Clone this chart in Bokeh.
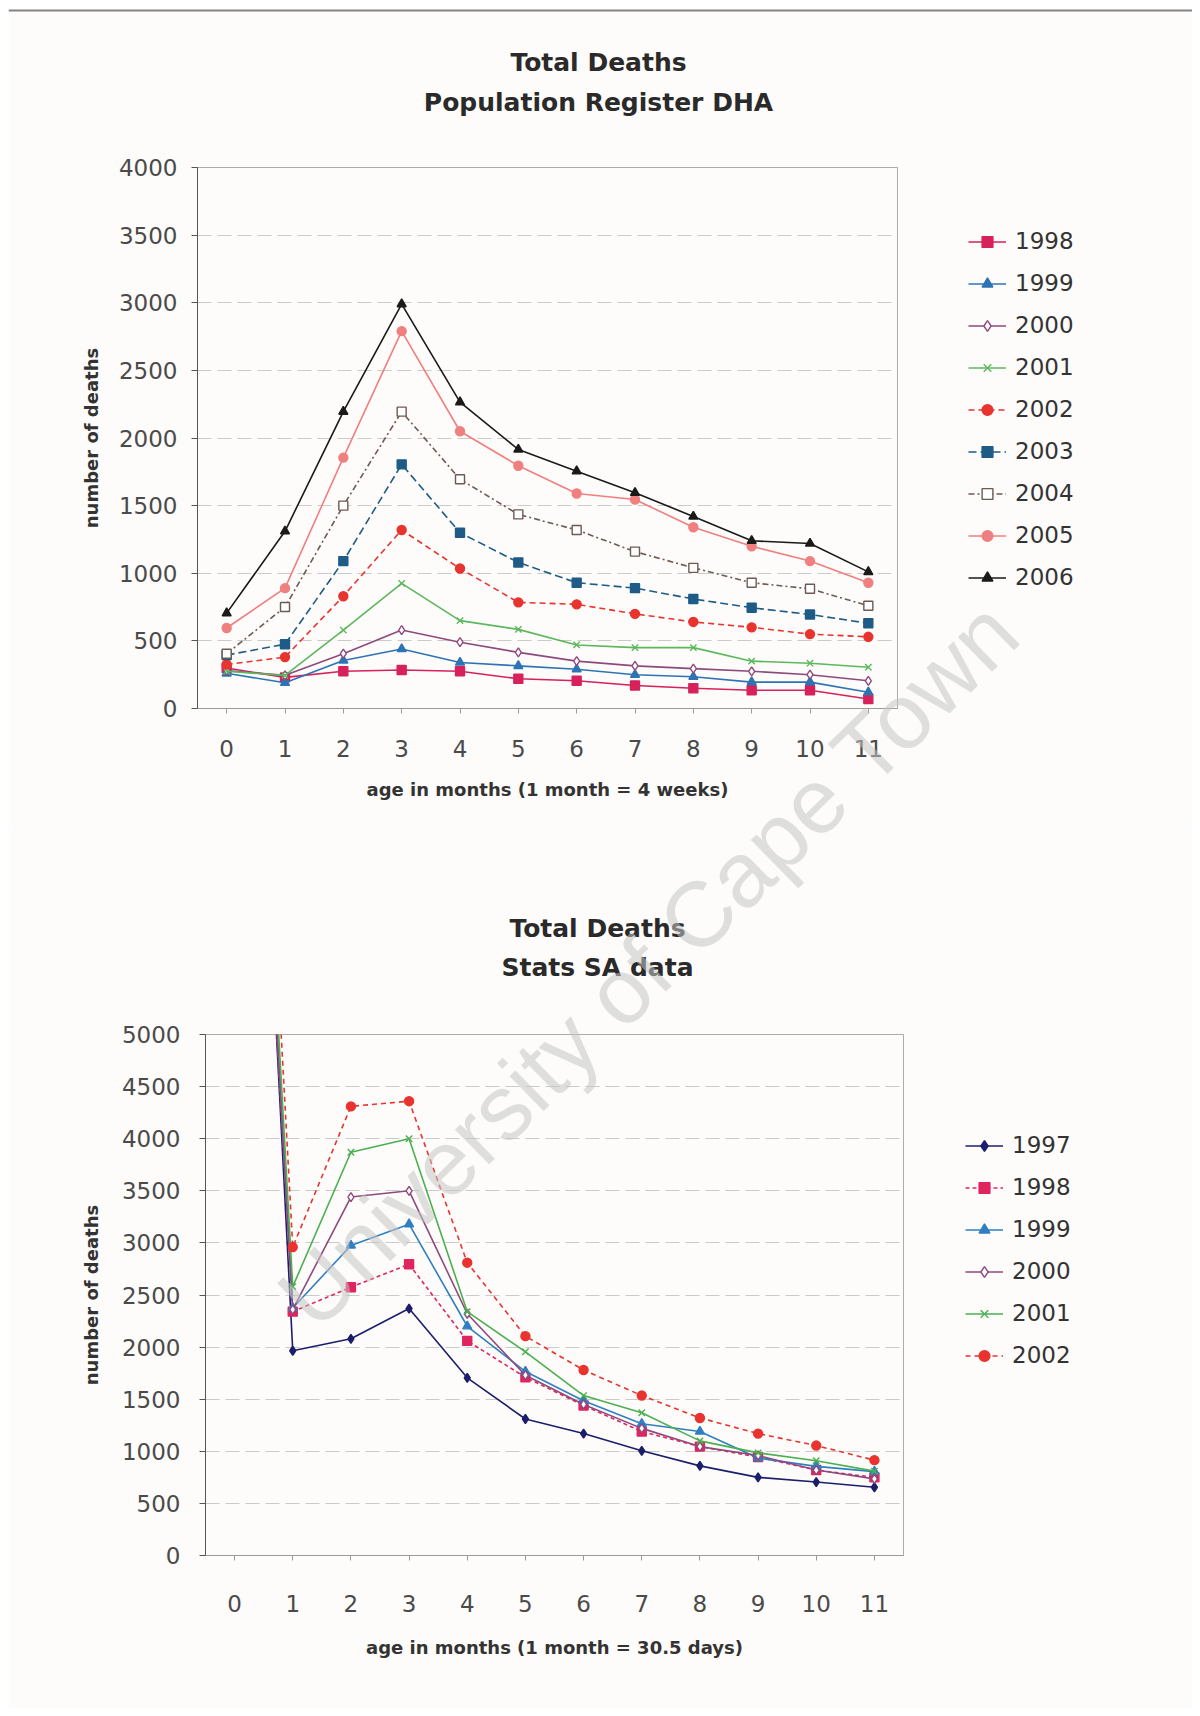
from bokeh.plotting import figure
from bokeh.models import Label, FixedTicker, Legend, LegendItem, Span
from bokeh.embed import file_html
from bokeh.resources import INLINE

# ---------------- data: top chart (Population Register DHA) ----------------
months = list(range(12))
dha_years = ["1998", "1999", "2000", "2001", "2002", "2003", "2004", "2005", "2006"]
dha_1998 = [300, 230, 275, 285, 275, 220, 205, 170, 150, 135, 135, 70]
dha_1999 = [260, 190, 355, 440, 340, 315, 290, 250, 235, 195, 195, 120]
dha_2000 = [280, 245, 405, 580, 490, 415, 350, 315, 295, 275, 250, 205]
dha_2001 = [275, 245, 580, 925, 650, 585, 470, 450, 450, 350, 335, 305]
dha_2002 = [325, 380, 830, 1320, 1035, 785, 770, 700, 640, 600, 550, 530]
dha_2003 = [395, 475, 1090, 1805, 1300, 1080, 930, 890, 810, 745, 695, 630]
dha_2004 = [405, 750, 1500, 2195, 1695, 1435, 1320, 1160, 1040, 930, 885, 760]
dha_2005 = [595, 890, 1855, 2790, 2050, 1795, 1590, 1545, 1340, 1200, 1090, 930]
dha_2006 = [705, 1310, 2195, 2990, 2265, 1915, 1755, 1595, 1420, 1240, 1220, 1010]
dha_values = [dha_1998, dha_1999, dha_2000, dha_2001, dha_2002, dha_2003,
              dha_2004, dha_2005, dha_2006]

# ---------------- data: bottom chart (Stats SA) ----------------
ssa_years = ["1997", "1998", "1999", "2000", "2001", "2002"]
ssa_1997 = [12800, 1965, 2080, 2370, 1705, 1310, 1170, 1005, 860, 750, 705, 655]
ssa_1998 = [12000, 2340, 2575, 2795, 2060, 1710, 1440, 1190, 1045, 945, 820, 750]
ssa_1999 = [12300, 2375, 2975, 3180, 2200, 1765, 1485, 1265, 1190, 935, 855, 805]
ssa_2000 = [12200, 2360, 3440, 3500, 2320, 1730, 1450, 1220, 1045, 960, 820, 735]
ssa_2001 = [12600, 2580, 3870, 4000, 2340, 1955, 1535, 1370, 1100, 985, 910, 810]
ssa_2002 = [13200, 2960, 4310, 4360, 2810, 2105, 1780, 1535, 1320, 1170, 1055, 915]
ssa_values = [ssa_1997, ssa_1998, ssa_1999, ssa_2000, ssa_2001, ssa_2002]

dha_ticks = [0, 500, 1000, 1500, 2000, 2500, 3000, 3500, 4000]
ssa_ticks = [0, 500, 1000, 1500, 2000, 2500, 3000, 3500, 4000, 4500, 5000]

dha_title = ["Total Deaths", "Population Register DHA"]
ssa_title = ["Total Deaths", "Stats SA data"]
watermark_text = "University of Cape Town"

# ---------------- styles ----------------
dha_style = [
    ("#d6215b", "square", "#d6215b", "solid"),
    ("#2e74b5", "triangle", "#2e74b5", "solid"),
    ("#8e4a7e", "diamond", "white", "solid"),
    ("#5cb85c", "x", "#5cb85c", "solid"),
    ("#e8332f", "circle", "#e8332f", "6 4"),
    ("#1f5b87", "square", "#1f5b87", "8 4"),
    ("#6e5a52", "square", "white", "6 3 2 3"),
    ("#f07f7f", "circle", "#f07f7f", "solid"),
    ("#1a1a1a", "triangle", "#1a1a1a", "solid"),
]
ssa_style = [
    ("#1b1f6b", "diamond", "#1b1f6b", "solid"),
    ("#e0245e", "square", "#e0245e", "4 3"),
    ("#2f7fc1", "triangle", "#2f7fc1", "solid"),
    ("#8e4a7e", "diamond", "white", "solid"),
    ("#4caf50", "x", "#4caf50", "solid"),
    ("#e8332f", "circle", "#e8332f", "5 4"),
]

FONT = "DejaVu Sans"
WFONT = "Liberation Sans"
BG = "#fdfcfa"
W = 1184
H1 = 822
H2 = 878
HT = H1 + H2
OX, OY = 8, 8   # page offset of everything


def place(top):
    return {"position": "absolute", "top": f"{OY + top}px", "left": f"{OX}px"}


def make_fig(height, top, border, y_end, ticks, xlab,
             ytick_standoff, ylab_standoff, xtick_standoff, xlab_standoff):
    left, right, btop, bottom = border
    p = figure(width=W, height=height, x_range=(-0.5, 11.5), y_range=(0, y_end),
               output_backend="svg", toolbar_location=None,
               min_border_left=left, min_border_right=right,
               min_border_top=btop, min_border_bottom=bottom,
               styles=place(top))
    p.background_fill_color = BG
    p.border_fill_color = BG
    p.outline_line_color = "#777777"
    p.outline_line_alpha = 0.6
    p.xgrid.visible = False
    p.ygrid.grid_line_color = "#bdbdbd"
    p.ygrid.grid_line_dash = "14 6"
    p.ygrid.grid_line_alpha = 0.8
    p.yaxis.ticker = FixedTicker(ticks=ticks)
    p.xaxis.ticker = FixedTicker(ticks=months)
    for ax in (p.xaxis, p.yaxis):
        ax.major_label_text_font = FONT
        ax.major_label_text_font_size = "23px"
        ax.major_label_text_color = "#4a4a4a"
        ax.axis_label_text_font = FONT
        ax.axis_label_text_font_style = "bold"
        ax.axis_label_text_font_size = "18px"
        ax.axis_label_text_color = "#333333"
        ax.minor_tick_line_color = None
    p.yaxis.axis_line_color = "#555555"
    p.yaxis.major_tick_line_color = "#555555"
    p.yaxis.major_tick_out = 6
    p.yaxis.major_tick_in = 0
    p.yaxis.major_label_standoff = ytick_standoff
    p.yaxis.axis_label = "number of deaths"
    p.yaxis.axis_label_standoff = ylab_standoff
    p.xaxis.axis_line_color = "#9a9a9a"
    p.xaxis.major_tick_line_color = "#9a9a9a"
    p.xaxis.major_tick_out = 5
    p.xaxis.major_tick_in = 0
    p.xaxis.major_label_standoff = xtick_standoff
    p.xaxis.axis_label = xlab
    p.xaxis.axis_label_standoff = xlab_standoff
    return p


def add_series(p, years, values, styles):
    for yr, vals, (col, mk, fill, dash) in zip(years, values, styles):
        p.line(months, vals, line_color=col, line_width=1.6, line_dash=dash)
        p.scatter(months, vals, marker=mk, size=9, line_color=col,
                  fill_color=fill, line_width=1.4)


# ---------------- top figure ----------------
p1 = make_fig(H1, 0, (189, 295, 159, 122), 4000, dha_ticks,
              "age in months (1 month = 4 weeks)", 14, 14, 26, 19)
add_series(p1, dha_years, dha_values, dha_style)

# ---------------- bottom figure ----------------
p2 = make_fig(H2, H1, (197, 289, 204, 153), 5000, ssa_ticks,
              "age in months (1 month = 30.5 days)", 19, 17, 34, 22)
add_series(p2, ssa_years, ssa_values, ssa_style)

# ---------- transparent page overlay: titles, legends, scan marks ----------
ov_style = place(0)
ov_style.update({"pointer-events": "none", "z-index": "5"})
pw = figure(width=W, height=HT, x_range=(0, W), y_range=(0, HT),
            output_backend="svg", toolbar_location=None,
            min_border=0, outline_line_color=None, styles=ov_style)
pw.axis.visible = False
pw.grid.visible = False
pw.background_fill_alpha = 0
pw.border_fill_alpha = 0


def px(xp):
    return xp - OX


def py(yp):
    return HT - (yp - OY)


def title(xp, yp, txt):
    pw.add_layout(Label(x=px(xp), y=py(yp), text=txt, text_align="center",
                        text_baseline="middle", text_font=FONT,
                        text_font_style="bold", text_font_size="25px",
                        text_color="#2a2a2a"))


title(598, 62, dha_title[0])
title(598, 102, dha_title[1])
title(597, 928, ssa_title[0])
title(597, 967, ssa_title[1])

NAN = [float("nan")]
ITEM_H = 27
SPACING = 15


def legend(years, styles, xp, yp_first):
    items = []
    for yr, (col, mk, fill, dash) in zip(years, styles):
        r1 = pw.line(NAN, NAN, line_color=col, line_width=1.6, line_dash=dash)
        r2 = pw.scatter(NAN, NAN, marker=mk, size=9, line_color=col,
                        fill_color=fill, line_width=1.4)
        items.append(LegendItem(label=yr, renderers=[r1, r2]))
    n = len(years)
    bottom = yp_first - ITEM_H / 2 + n * ITEM_H + (n - 1) * SPACING
    lg = Legend(items=items, location=(px(xp), py(bottom)))
    lg.background_fill_alpha = 0
    lg.border_line_alpha = 0
    lg.padding = 0
    lg.margin = 0
    lg.glyph_width = 38
    lg.glyph_height = ITEM_H
    lg.label_standoff = 9
    lg.label_height = ITEM_H
    lg.spacing = SPACING
    lg.label_text_font = FONT
    lg.label_text_font_size = "23px"
    lg.label_text_color = "#333333"
    lg.label_text_baseline = "middle"
    pw.add_layout(lg)


legend(dha_years, dha_style, 968, 241)
legend(ssa_years, ssa_style, 965, 1145)

# scanned page edge at the top
pw.add_layout(Span(location=py(10), dimension="width", line_color="#666666",
                   line_width=2, line_alpha=0.8))

pw.add_layout(Label(x=px(648), y=py(963), text=watermark_text,
                    angle=0.775, text_align="center", text_baseline="middle",
                    text_font=WFONT, text_font_size="92px",
                    text_color="#c4c4c4", text_alpha=0.55))

open("out.html", "w").write(file_html([p1, p2, pw], INLINE))
